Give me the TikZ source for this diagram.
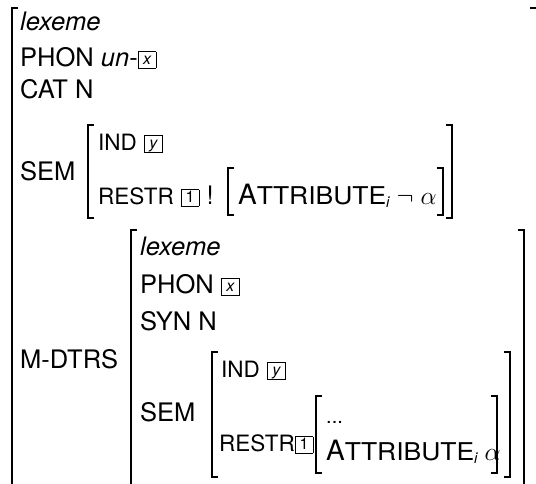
\documentclass[tikz,border=0pt]{standalone}
\usepackage{fix-cm}
\usepackage{fontspec}
\setmainfont{TeX Gyre Heros}
\newcommand\tg[1]{{\fboxsep=0pt\fboxrule=0.8pt\raisebox{-1.5pt}{\fbox{\makebox[17pt]{\rule{0pt}{15.5pt}\raisebox{3pt}{\fontsize{16}{16}\selectfont #1}}}}}}
\newcommand\smc[1]{{\fontsize{22.5}{22.5}\selectfont #1}}
\newcommand\attrb{{\fontsize{28}{28}\selectfont A}{\fontsize{24.5}{24.5}\selectfont\scalebox{1.08}[1]{TTRIBUTE}}\raisebox{-3pt}{\fontsize{15}{15}\selectfont\itshape i}}
\begin{document}
\begin{tikzpicture}[x=1pt,y=-1pt,
  every node/.style={inner sep=0pt, anchor=base west, font=\fontsize{25.5}{30}\selectfont},
  brk/.style={line width=1.3pt}]
\useasboundingbox (0,0) rectangle (536,483);
\clip (0,0) rectangle (536,483);
% outer matrix
\draw[brk] (18,8) -| (12,520) -- (18,520);
\draw[brk] (530,8) -| (538,520) -- (530,520);
\node (lex) at (20,30) {\itshape lexeme};
\node (phon) at (20,66) {PHON \textit{un}-\tg{\itshape x}};
\node (cat) at (20,98) {CAT N};
\node (sem) at (20,180) {SEM};
% top SEM
\draw[brk] (94,125) -| (88,218) -- (94,218);
\draw[brk] (446,125) -| (452,218) -- (446,218);
\node (ind) at (98,150) {\smc{IND} \tg{\itshape y}};
\node (restr) at (98,204) {\smc{RESTR} \tg{1} !};
\draw[brk] (234,168) -| (228,215) -- (234,215);
\draw[brk] (437,168) -| (443,215) -- (437,215);
\node (att) at (238,204) {\attrb\ $\neg$ $\alpha$};
% M-DTRS
\node (mdtrs) at (20,368) {M-DTRS};
\draw[brk] (137,230) -| (131,486) -- (137,486);
\draw[brk] (518,230) -| (524,486) -- (518,486);
\node (lex2) at (140,255) {\itshape lexeme};
\node (phon2) at (140,293) {PHON \tg{\itshape x}};
\node (syn) at (140,330) {SYN N};
\node (sem2) at (140,421) {SEM};
\draw[brk] (218,352) -| (212,477) -- (218,477);
\draw[brk] (504,352) -| (510,477) -- (504,477);
\node (ind2) at (221,377) {\smc{IND} \tg{\itshape y}};
\node (restr2) at (219,451) {\smc{RESTR}\tg{1}};
\draw[brk] (322,396) -| (316,473) -- (322,473);
\draw[brk] (491,396) -| (497,473) -- (491,473);
\node (dots) at (326,423) {\fontsize{20}{20}\selectfont ...};
\node (att2) at (326,460) {\attrb\ $\alpha$};
\end{tikzpicture}
\end{document}
